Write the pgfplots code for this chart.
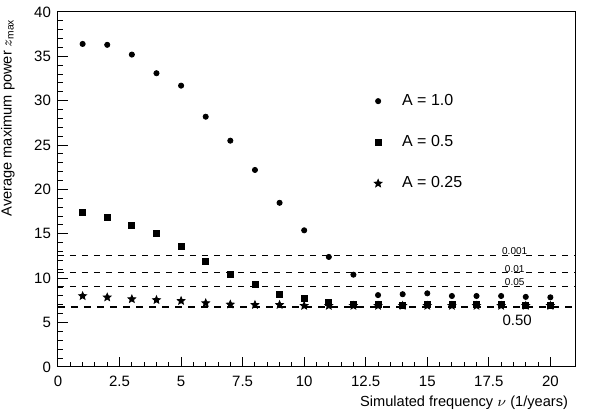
\documentclass[border=0pt]{standalone}
\usepackage{pgfplots}
\pgfplotsset{compat=1.18}
\usepackage{fontspec}
\setmainfont{Liberation Sans}

% filled five-point star
\pgfdeclareplotmark{fstar}{%
  \pgfpathmoveto{\pgfpointpolar{90}{\pgfplotmarksize}}%
  \pgfpathlineto{\pgfpointpolar{126}{0.45\pgfplotmarksize}}%
  \pgfpathlineto{\pgfpointpolar{162}{\pgfplotmarksize}}%
  \pgfpathlineto{\pgfpointpolar{198}{0.45\pgfplotmarksize}}%
  \pgfpathlineto{\pgfpointpolar{234}{\pgfplotmarksize}}%
  \pgfpathlineto{\pgfpointpolar{270}{0.45\pgfplotmarksize}}%
  \pgfpathlineto{\pgfpointpolar{306}{\pgfplotmarksize}}%
  \pgfpathlineto{\pgfpointpolar{342}{0.45\pgfplotmarksize}}%
  \pgfpathlineto{\pgfpointpolar{18}{\pgfplotmarksize}}%
  \pgfpathlineto{\pgfpointpolar{54}{0.45\pgfplotmarksize}}%
  \pgfpathclose
  \pgfusepathqfillstroke}

\begin{document}
\begin{tikzpicture}
\begin{axis}[
  scale only axis,
  width=258.5pt,
  height=177.5pt,
  xmin=0, xmax=21,
  ymin=0, ymax=40,
  xtick={0,2.5,...,20},
  ytick={0,5,...,40},
  minor x tick num=4,
  minor y tick num=4,
  xtick pos=bottom,
  ytick pos=left,
  tick align=inside,
  major tick length=5pt,
  minor tick length=2.5pt,
  axis line style={line width=0.5pt},
  tick style={line width=0.5pt, black},
  /pgf/number format/assume math mode=true,
  tick label style={font=\fontsize{7.5}{8}\selectfont},
  xticklabel style={yshift=-1pt},
  label style={font=\fontsize{7.3}{8}\selectfont},
  xlabel={Simulated frequency $\nu$ (1/years)},
  xlabel style={at={(rel axis cs:1,0)}, anchor=north east, yshift=-11pt},
  ylabel={Average maximum power $z_{\mathrm{max}}$},
  ylabel style={at={(axis description cs:-0.097,1)}, anchor=east},
  legend image code/.code={%
    \path[draw=none] (-3pt,0pt) -- (10pt,0pt);
    \draw[#1, only marks] plot coordinates {(0pt,0pt)};},
  legend style={draw=none, fill=none, at={(axis cs:12.5,31.7)}, anchor=north west,
    font=\fontsize{8}{9}\selectfont, row sep=9.5pt, legend cell align=left},
]
  \addplot[only marks, mark=*, mark size=1.3pt, black] coordinates {
    (1,36.4) (2,36.3) (3,35.2) (4,33.1) (5,31.7) (6,28.2) (7,25.5) (8,22.2)
    (9,18.5) (10,15.4) (11,12.4) (12,10.4) (13,8.1) (14,8.2) (15,8.3)
    (16,8.0) (17,8.0) (18,8.0) (19,7.9) (20,7.85)
  };
  \addlegendentry{A = 1.0}
  \addplot[only marks, mark=square*, mark size=1.5pt, black] coordinates {
    (1,17.4) (2,16.8) (3,16.0) (4,15.0) (5,13.6) (6,11.9) (7,10.4) (8,9.35)
    (9,8.15) (10,7.7) (11,7.3) (12,7.1) (13,7.0) (14,6.95) (15,7.1)
    (16,7.0) (17,7.0) (18,7.0) (19,6.9) (20,6.9)
  };
  \addlegendentry{A = 0.5}
  \addplot[only marks, mark=fstar, mark size=2.0pt, black] coordinates {
    (1,8.0) (2,7.85) (3,7.65) (4,7.55) (5,7.45) (6,7.2) (7,7.05) (8,7.0)
    (9,7.0) (10,6.9) (11,6.9) (12,6.9) (13,6.9) (14,6.9) (15,6.9)
    (16,6.9) (17,6.9) (18,6.9) (19,6.9) (20,6.9)
  };
  \addlegendentry{A = 0.25}
  % significance levels
  \addplot[forget plot, black, line width=0.5pt, dash pattern=on 3pt off 3pt] coordinates {(0,12.6) (21,12.6)};
  \addplot[forget plot, black, line width=0.5pt, dash pattern=on 3pt off 3pt] coordinates {(0,10.6) (21,10.6)};
  \addplot[forget plot, black, line width=0.5pt, dash pattern=on 3pt off 3pt] coordinates {(0,9.1) (21,9.1)};
  \addplot[forget plot, black, line width=1pt, dash pattern=on 3.5pt off 3pt] coordinates {(0,6.75) (21,6.75)};
  \node[font=\fontsize{5}{5}\selectfont, anchor=south, inner sep=0.2pt] at (axis cs:18.55,12.6) {0.001};
  \node[font=\fontsize{5}{5}\selectfont, anchor=south, inner sep=0.2pt] at (axis cs:18.55,10.6) {0.01};
  \node[font=\fontsize{5}{5}\selectfont, anchor=south, inner sep=0.2pt] at (axis cs:18.55,9.1) {0.05};
  \node[font=\fontsize{7.5}{8}\selectfont] at (axis cs:18.65,5.3) {0.50};
\end{axis}
\pgfresetboundingbox
\path[use as bounding box] ([shift={(-29pt,-23pt)}]current axis.south west) rectangle ([shift={(12pt,6pt)}]current axis.north east);
\end{tikzpicture}
\end{document}
